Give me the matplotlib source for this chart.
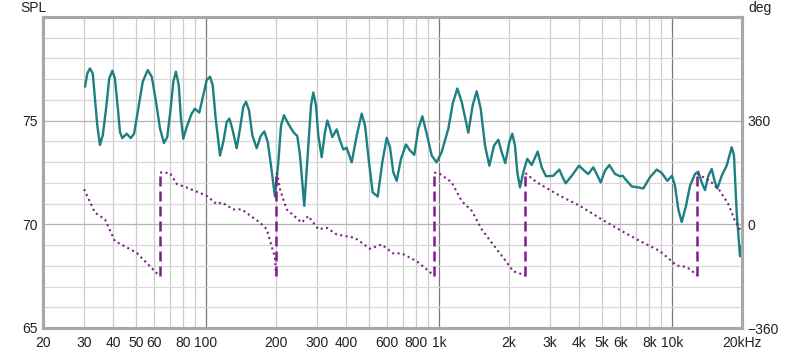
import numpy as np
import matplotlib
matplotlib.use("Agg")
import matplotlib.pyplot as plt
from matplotlib.ticker import FixedLocator, NullFormatter

plt.rcParams['font.family'] = ['Liberation Sans', 'DejaVu Sans']

# SPL magnitude response (Hz, dB)
spl_freq = [30.3, 31.0, 31.8, 32.7, 33.4, 34.2, 35.1, 36.1, 37.3, 38.5, 39.7, 40.7, 41.8,
            42.8, 43.8, 45.7, 47.6, 49.2, 51.3, 53.6, 56.3, 58.6, 61.1, 63.6, 66.1, 68.3,
            70.6, 72.5, 74.4, 76.5, 78.2, 80.0, 82.7, 86.9, 89.8, 93.7, 97.5, 100.8, 104.2,
            107.0, 110.2, 115.0, 118.8, 122.9, 126.1, 129.9, 135.6, 140.1, 144.8, 148.7,
            153.2, 158.3, 165.3, 171.9, 178.2, 184.3, 190.4, 198.0, 204.6, 210.2, 216.4,
            225.8, 237.4, 246.8, 253.6, 264.5, 275.2, 282.7, 289.2, 297.0, 303.8, 314.2,
            324.6, 332.2, 341.1, 348.9, 364.4, 376.5, 389.0, 402.2, 422.6, 444.2, 466.5,
            482.0, 501.4, 520.0, 546.4, 571.8, 597.3, 617.0, 637.4, 659.2, 687.8, 722.6,
            751.8, 784.6, 816.0, 849.2, 887.0, 931.6, 977.0, 1028, 1098, 1147, 1200, 1253,
            1338, 1397, 1453, 1512, 1578, 1647, 1725, 1800, 1861, 1928, 2006, 2066, 2122,
            2171, 2230, 2304, 2396, 2502, 2656, 2762, 2882, 3098, 3288, 3400, 3502, 3716,
            3994, 4280, 4378, 4600, 4758, 4950, 5164, 5390, 5702, 5990, 6152, 6400, 6724,
            7178, 7542, 8056, 8610, 9046, 9558, 10014, 10314, 10656, 11020, 11500, 11964,
            12570, 12986, 13428, 13874, 14336, 14826, 15316, 15668, 16366, 17192, 18066,
            18478, 18978, 19608, 20000]
spl_db = [76.64, 77.28, 77.52, 77.28, 76.07, 74.77, 73.83, 74.29, 75.58, 77.04, 77.41,
          77.04, 75.74, 74.45, 74.16, 74.37, 74.16, 74.37, 75.58, 76.88, 77.44, 77.12,
          75.91, 74.61, 73.92, 74.21, 75.58, 76.88, 77.36, 76.71, 75.10, 74.13, 74.69,
          75.34, 75.58, 75.39, 76.23, 76.96, 77.12, 76.71, 75.10, 73.32, 73.97, 74.94,
          75.10, 74.61, 73.67, 74.61, 75.67, 75.91, 75.50, 74.29, 73.67, 74.26, 74.48,
          73.97, 72.83, 71.34, 72.99, 74.77, 75.26, 74.85, 74.45, 74.26, 73.32, 70.89,
          73.80, 75.74, 76.36, 75.74, 74.29, 73.24, 74.45, 75.01, 74.61, 74.21, 74.58,
          74.04, 73.61, 73.69, 72.99, 74.29, 75.34, 74.77, 72.99, 71.54, 71.34, 72.99,
          74.17, 73.72, 72.51, 72.10, 73.16, 73.85, 73.56, 73.35, 74.61, 75.21, 74.37,
          73.32, 72.99, 73.48, 74.61, 75.83, 76.55, 75.91, 74.42, 75.74, 76.42, 75.58,
          73.80, 72.83, 73.80, 74.08, 73.48, 72.95, 73.97, 74.37, 73.80, 72.51, 71.78,
          72.51, 73.16, 72.86, 73.51, 72.75, 72.32, 72.34, 72.64, 72.27, 71.98, 72.34,
          72.83, 72.51, 72.43, 72.75, 72.43, 72.02, 72.59, 72.86, 72.43, 72.32, 72.34,
          72.10, 71.83, 71.78, 71.73, 72.27, 72.64, 72.48, 72.10, 72.34, 71.86, 70.73,
          70.11, 70.89, 71.86, 72.43, 72.54, 72.02, 71.65, 72.34, 72.67, 72.02, 71.73,
          72.34, 72.83, 73.72, 73.32, 70.57, 68.46, 69.03]

# Phase response, wrapped segments (Hz, degrees)
phase_segments_freq = [
    [30, 33.4, 36.9, 40.7, 50.5, 62.5, 63.6],
    [63.6, 64.0, 70.2, 75, 82.7, 100.8, 111.3, 117, 131, 142.5, 170.8, 182.5, 198, 200],
    [200, 202.6, 208, 222.3, 257.8, 275.2, 303.8, 330.2, 364.4, 436.6, 506.4, 568.4,
     637.4, 692.6, 803.4, 931.6, 955],
    [955, 1011, 1135, 1253, 1384, 1527, 1686, 1890, 2087, 2304, 2350],
    [2350, 2630, 3310, 4034, 4916, 5990, 7300, 8894, 10488, 11580, 12782, 12860],
    [12860, 14580, 16092, 17470, 18666, 19940, 20000],
]
phase_segments_deg = [
    [122, 41, 17, -58, -99, -175, -178],
    [180, 180, 178, 140, 128, 99, 70, 76, 52, 52, 6, -17, -116, -178],
    [178, 175, 122, 52, 6, 29, -17, -12, -35, -47, -85, -70, -101, -101, -128, -171, -178],
    [180, 175, 146, 81, 47, -17, -64, -116, -163, -175, -178],
    [178, 146, 99, 64, 21, -20, -58, -93, -143, -148, -175, -178],
    [175, 151, 116, 70, 12, -29, -35],
]
wrap_freq = [63.6, 200, 955, 2350, 12860]

x_ticks = [20, 30, 40, 50, 60, 80, 100, 200, 300, 400, 600, 800, 1000, 2000, 3000,
           4000, 5000, 6000, 8000, 10000, 20000]
x_labels = ["20", "30", "40", "50", "60", "80", "100", "200", "300", "400", "600", "800",
            "1k", "2k", "3k", "4k", "5k", "6k", "8k", "10k", "20kHz"]
y_ticks = [65, 70, 75]
phase_ticks = [-360, 0, 360]

fig = plt.figure(figsize=(8.0, 3.53), dpi=100)
W, H = 800, 353
ax = fig.add_axes([43 / W, (H - 328) / H, (742 - 43) / W, (328 - 17) / H])
ax2 = ax.twinx()

ax.set_xscale('log')
ax.set_xlim(20, 20000)
ax.set_ylim(65, 80)
ax2.set_ylim(-360, 720)

# grid
minor_x = [f for d in (10, 100, 1000, 10000) for f in np.arange(2, 10) * d if 20 < f < 20000]
for f in minor_x:
    ax.axvline(f, color='#cccccc', lw=0.9, zorder=0)
for f in (100, 1000, 10000):
    ax.axvline(f, color='#7a7a7a', lw=0.9, zorder=0)
for v in np.arange(66, 80):
    c = '#b4b4b4' if v % 5 == 0 else '#d8d8d8'
    ax.axhline(v, color=c, lw=0.9, zorder=0)

ax.plot(spl_freq, spl_db, color='#1c7f80', lw=1.7, solid_joinstyle='round',
        solid_capstyle='round', zorder=3)

for fs, ds in zip(phase_segments_freq, phase_segments_deg):
    ax2.plot(fs, ds, color='#7b1f88', lw=1.5, ls=(0, (1, 1.6)), zorder=2)
for wf in wrap_freq:
    ax2.plot([wf, wf], [-178, 180], color='#7b1f88', lw=1.8, ls=(0, (4, 2)), zorder=2)

ax.xaxis.set_major_locator(FixedLocator(x_ticks))
ax.set_xticklabels(x_labels)
ax.xaxis.set_minor_formatter(NullFormatter())
ax.set_yticks(y_ticks)
ax2.set_yticks(phase_ticks)
ax.tick_params(axis='both', which='both', length=0, labelsize=10, colors='#222222', pad=4)
ax2.tick_params(axis='y', length=0, labelsize=10, colors='#222222', pad=4)
ax.tick_params(axis='x', pad=6)

for a in (ax, ax2):
    for s in a.spines.values():
        s.set_color('#a8a8a8')
        s.set_linewidth(2.2)
ax2.set_zorder(ax.get_zorder() + 1)
ax2.patch.set_visible(False)

fig.text(20 / W, 1 - 8 / H, "SPL", fontsize=10, va='center', ha='left', color='#222222')
fig.text(748 / W, 1 - 8 / H, "deg", fontsize=10, va='center', ha='left', color='#222222')

fig.savefig("out.png", dpi=100)
